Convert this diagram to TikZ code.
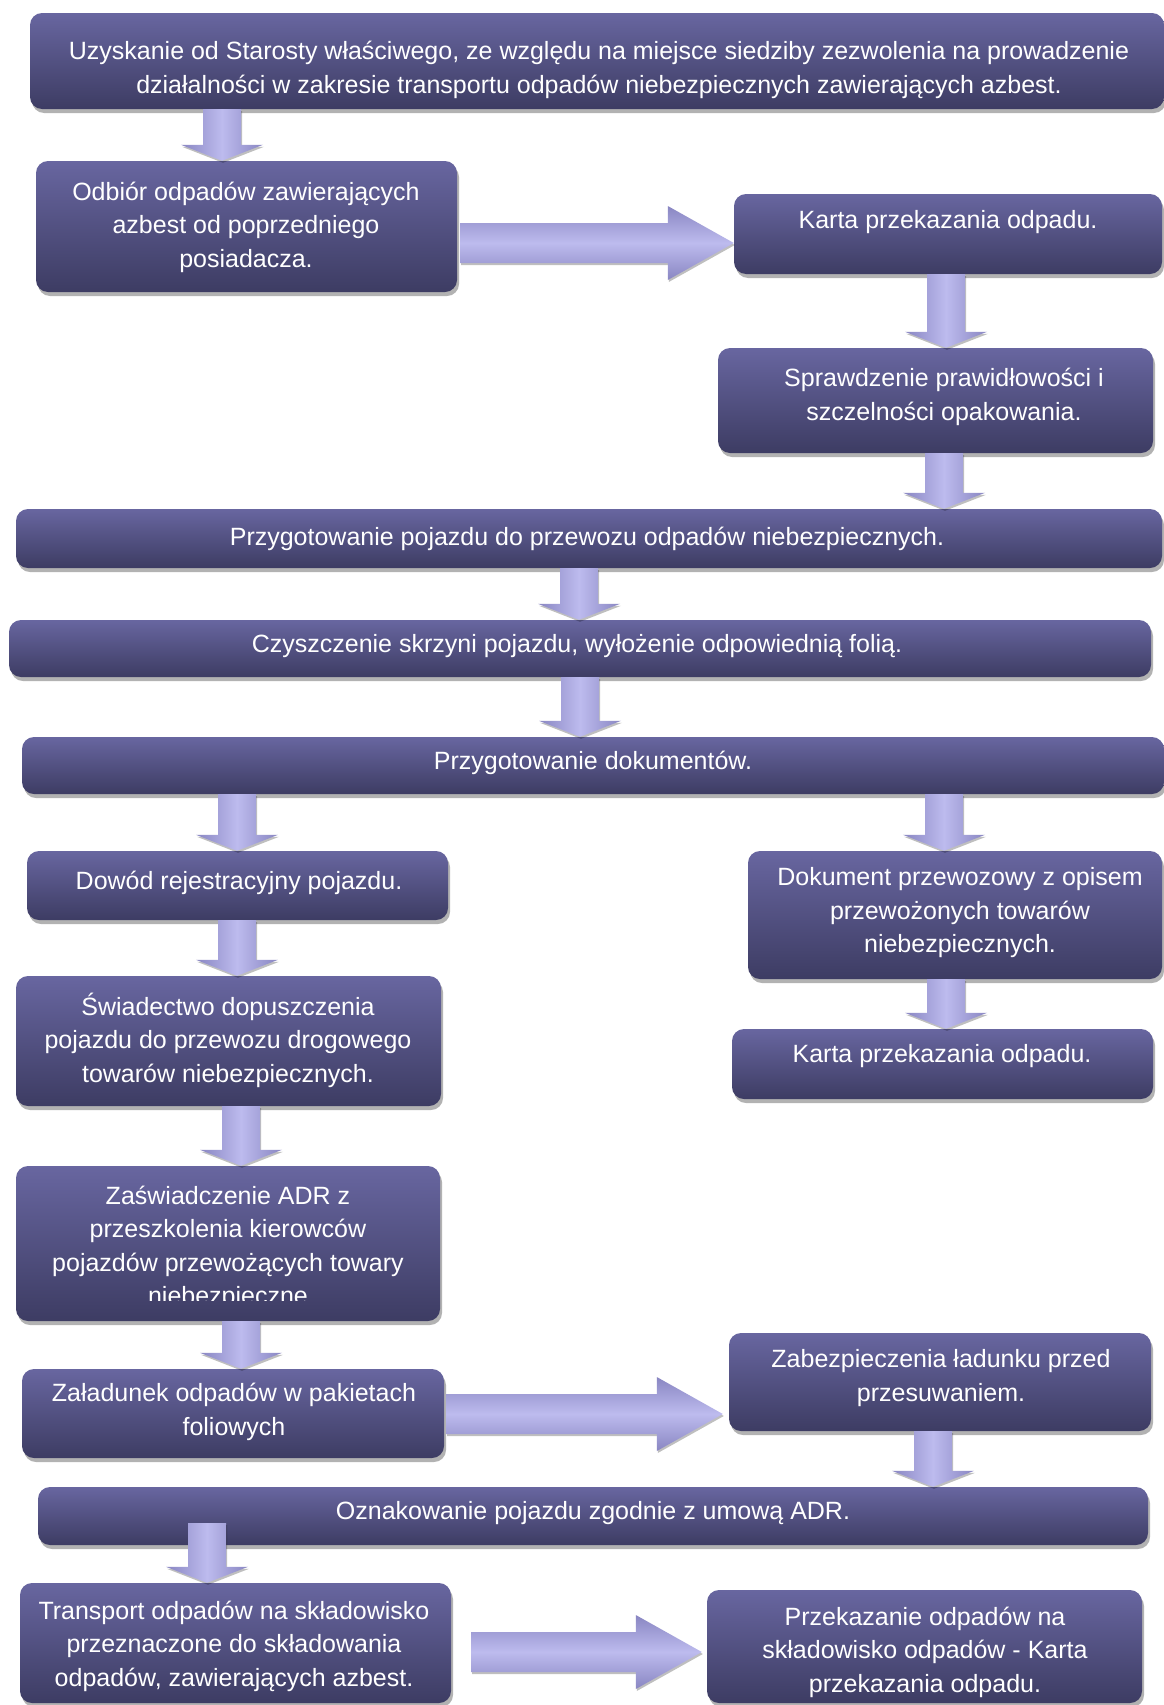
\documentclass[tikz,border=0pt]{standalone}
\usepackage{fontspec}
\setmainfont{Liberation Sans}
\usetikzlibrary{shadows,calc}
\definecolor{bxtop}{HTML}{6866A0}
\definecolor{bxmid}{HTML}{56558B}
\definecolor{bxbot}{HTML}{3D3C63}
\definecolor{arE}{HTML}{8986C2}
\definecolor{arM}{HTML}{BDBBEE}
\tikzset{
  box/.style={rounded corners=12pt, top color=bxtop, middle color=bxmid, bottom color=bxbot,
    draw=none, inner sep=0pt,
    drop shadow={shadow xshift=2pt, shadow yshift=-4pt, opacity=0.3, fill=black}},
  txt/.style={text=white, align=center, font=\fontsize{25}{33.5}\selectfont, inner sep=0pt},
  varrow/.style={left color=arE, right color=arE, middle color=arM, draw=none,
    drop shadow={shadow xshift=1pt, shadow yshift=-2pt, opacity=0.25, fill=black}},
  harrow/.style={top color=arE, bottom color=arE, middle color=arM, draw=none,
    drop shadow={shadow xshift=1pt, shadow yshift=-2pt, opacity=0.25, fill=black}},
}
\newcommand{\boxat}[5]{\node[box, minimum width=#4pt, minimum height=#5pt] (#1) at (#2,#3) {};}
\newcommand{\varr}[2]{\path[varrow] let \p1=#1, \p2=#2 in
  (\x1-19pt,\y1) -- (\x1+19pt,\y1) -- (\x1+19pt,\y2+16pt) -- (\x1+41pt,\y2+16pt) --
  (\x1,\y2) -- (\x1-41pt,\y2+16pt) -- (\x1-19pt,\y2+16pt) -- cycle;}
\newcommand{\harr}[2]{\path[harrow] let \p1=#1, \p2=#2 in
  (\x1,\y1+20pt) -- (\x2-66pt,\y1+20pt) -- (\x2-66pt,\y1+37pt) -- (\x2,\y1) --
  (\x2-66pt,\y1-37pt) -- (\x2-66pt,\y1-20pt) -- (\x1,\y1-20pt) -- cycle;}
\begin{document}
\begin{tikzpicture}[x=1pt,y=-1pt]
\fill[white] (0,0) rectangle (1164,1705);
\useasboundingbox (0,0) rectangle (1164,1705);
% boxes
\boxat{top}{597}{61}{1134}{96}
\boxat{odbior}{246.5}{226.5}{421}{131}
\boxat{karta1}{948}{234}{428}{80}
\boxat{sprawdz}{935.5}{400.5}{435}{105}
\boxat{bar1}{589}{538.5}{1146}{59}
\boxat{bar2}{580}{648.5}{1142}{57}
\boxat{bar3}{593}{765.5}{1142}{57}
\boxat{dowod}{237.5}{885.5}{421}{69}
\boxat{dokument}{955}{915}{414}{128}
\boxat{swiad}{228.5}{1041}{425}{130}
\boxat{karta2}{942.5}{1064}{421}{70}
\boxat{zasw}{228}{1243.5}{424}{155}
\boxat{zalad}{233}{1413.5}{422}{89}
\boxat{zabezp}{940}{1382}{422}{98}
\boxat{bar4}{593}{1516}{1110}{58}
\boxat{transport}{235.5}{1643}{431}{120}
\boxat{przek}{924.5}{1646.5}{435}{113}
% texts
\node[txt] (top-t) at (599,70) {Uzyskanie od Starosty właściwego, ze względu na miejsce siedziby zezwolenia na prowadzenie\\działalności w zakresie transportu odpadów niebezpiecznych zawierających azbest.};
\node[txt] (odbior-t) at (246,227) {Odbiór odpadów zawierających\\azbest od poprzedniego\\posiadacza.};
\node[txt] (karta1-t) at (948,222) {Karta przekazania odpadu.};
\node[txt] (sprawdz-t) at (944,397) {Sprawdzenie prawidłowości i\\szczelności opakowania.};
\node[txt] (bar1-t) at (587,539) {Przygotowanie pojazdu do przewozu odpadów niebezpiecznych.};
\node[txt] (bar2-t) at (577,646) {Czyszczenie skrzyni pojazdu, wyłożenie odpowiednią folią.};
\node[txt] (bar3-t) at (593,763) {Przygotowanie dokumentów.};
\node[txt] (dowod-t) at (239,883) {Dowód rejestracyjny pojazdu.};
\node[txt] (dokument-t) at (960,913) {Dokument przewozowy z opisem\\przewożonych towarów\\niebezpiecznych.};
\node[txt] (swiad-t) at (228,1040) {Świadectwo dopuszczenia\\pojazdu do przewozu drogowego\\towarów niebezpiecznych.};
\node[txt] (karta2-t) at (942,1056) {Karta przekazania odpadu.};
\begin{scope}
\clip (16,1160) rectangle (440,1300);
\node[txt] (zasw-t) at (228,1248) {Zaświadczenie ADR z\\przeszkolenia kierowców\\pojazdów przewożących towary\\niebezpieczne};
\end{scope}
\node[txt] (zalad-t) at (234,1412) {Załadunek odpadów w pakietach\\foliowych};
\node[txt] (zabezp-t) at (941,1378) {Zabezpieczenia ładunku przed\\przesuwaniem.};
\node[txt] (bar4-t) at (593,1513) {Oznakowanie pojazdu zgodnie z umową ADR.};
\node[txt] (transport-t) at (234,1646) {Transport odpadów na składowisko\\przeznaczone do składowania\\odpadów, zawierających azbest.};
\node[txt] (przek-t) at (925,1652) {Przekazanie odpadów na\\składowisko odpadów - Karta\\przekazania odpadu.};
% arrow positions
\coordinate (c1) at (222,0);
\coordinate (c2) at (946,0);
\coordinate (c3) at (944,0);
\coordinate (c4) at (579,0);
\coordinate (c5) at (580,0);
\coordinate (c6) at (237,0);
\coordinate (c10) at (241,0);
\coordinate (c12) at (933,0);
\coordinate (c13) at (207,0);
\coordinate (h1) at (0,243);
\coordinate (h2) at (0,1414);
\coordinate (h3) at (0,1652);
% down arrows
\varr{(top.south -| c1)}{(odbior.north -| c1)}
\varr{(karta1.south -| c2)}{(sprawdz.north -| c2)}
\varr{(sprawdz.south -| c3)}{(bar1.north -| c3)}
\varr{(bar1.south -| c4)}{(bar2.north -| c4)}
\varr{(bar2.south -| c5)}{(bar3.north -| c5)}
\varr{(bar3.south -| c6)}{(dowod.north -| c6)}
\varr{(bar3.south -| c3)}{(dokument.north -| c3)}
\varr{(dowod.south -| c6)}{(swiad.north -| c6)}
\varr{(dokument.south -| c2)}{(karta2.north -| c2)}
\varr{(swiad.south -| c10)}{(zasw.north -| c10)}
\varr{(zasw.south -| c10)}{(zalad.north -| c10)}
\varr{(zabezp.south -| c12)}{(bar4.north -| c12)}
\varr{($(bar4.south -| c13)+(0,-22)$)}{(transport.north -| c13)}
% horizontal arrows
\harr{($(odbior.east |- h1)+(3,0)$)}{(karta1.west |- h1)}
\harr{($(zalad.east |- h2)+(2,0)$)}{($(zabezp.west |- h2)+(-6,0)$)}
\harr{($(transport.east |- h3)+(20,0)$)}{($(przek.west |- h3)+(-5,0)$)}
\end{tikzpicture}
\end{document}
